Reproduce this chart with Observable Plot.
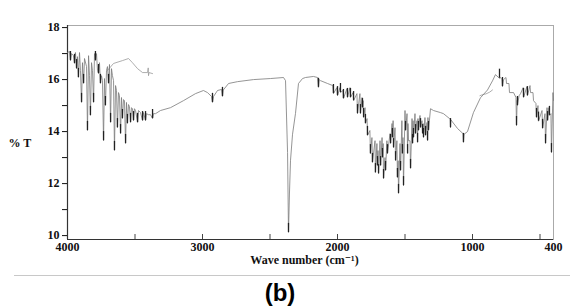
<!DOCTYPE html>
<html><head><meta charset="utf-8">
<script src="https://cdn.jsdelivr.net/npm/d3@7"></script>
<script src="https://cdn.jsdelivr.net/npm/@observablehq/plot@0.6"></script>
<style>
body{margin:0;background:#fff;}
#chart{width:576px;height:275px;}
#cap{width:556px;margin-left:14px;border-top:1px solid #c8c8c8;text-align:center;font:bold 24px Arial,"Liberation Sans",sans-serif;line-height:30px;padding-top:2px;color:#000;}
#cap span{position:relative;left:-12px;}
</style></head><body>
<div id="chart"></div>
<div id="cap"><span>(b)</span></div>
<script>
// Main spectrum: wavenumber (cm-1) and %T
const spectrumW = [4000,3985,3978,3970,3956,3948,3941,3933,3926,3919,3911,3904,3896,3889,3881,3874,3859,3852,3844,3837,3830,3822,3815,3807,3800,3793,3785,3778,3770,3763,3756,3748,3741,3733,3726,3719,3711,3704,3696,3689,3681,3674,3667,3659,3652,3644,3637,3630,3622,3615,3607,3600,3593,3585,3578,3570,3563,3556,3548,3541,3533,3526,3519,3511,3504,3496,3481,3474,3459,3444,3437,3422,3415,3400,3385,3370,3363,3348,
3311,3237,3141,3052,2993,2963,2933,2926,2918,2889,2859,2852,2846,2807,2741,2622,2496,2400,2385,2370,2363,2356,2348,2333,2311,2289,2259,2237,2178,2148,2141,2135,2126,2074,
2035,2030,2005,2000,1982,1978,1960,1956,1930,1926,1908,1904,1885,1881,1856,1852,1834,1830,1818,1815,1810,1807,1796,1793,1781,1778,1760,1756,1745,1741,1722,1719,1708,1704,1700,1696,1685,1681,1670,1667,1662,1659,1648,1644,1634,1630,1611,1607,1596,1593,1588,1585,1574,1570,1560,1556,1551,1548,1537,1533,1523,1519,1515,1511,1500,1496,1485,1481,1478,1474,1463,1459,1448,1444,1440,1437,1426,1422,1411,1407,1404,1400,1389,1385,1374,1370,1366,1363,1352,1348,1337,1333,1330,1326,
1311,1289,1237,1215,1170,1165,1163,1160,1111,1070,1067,1062,1037,993,941,889,852,830,800,793,782,778,770,752,748,730,726,696,678,674,669,667,655,644,625,622,597,593,574,570,552,548,530,526,515,511,485,481,463,459,448,444,434,430,419,415,404,400];
const spectrumT = [17.04,17.08,16.73,17.0,16.92,16.62,17.04,16.42,16.88,16.08,17.04,16.35,15.12,16.65,15.85,16.81,16.5,14.04,16.92,16.15,14.62,16.65,16.35,15.12,17.0,16.73,17.0,16.35,16.23,16.65,15.85,16.15,15.96,13.65,16.04,15.0,16.35,16.5,15.85,16.58,14.35,16.42,16.15,15.96,13.27,15.77,15.58,14.15,15.5,15.38,13.92,15.31,14.5,15.23,15.19,13.54,15.12,14.31,15.04,14.96,14.35,14.92,14.88,14.42,14.88,14.81,14.35,14.81,14.73,14.42,14.73,14.42,14.69,14.65,14.65,14.5,14.69,14.69,
14.81,14.92,15.19,15.46,15.58,15.5,15.35,15.12,15.35,15.58,15.62,15.35,15.6,15.85,15.92,16.0,16.04,16.08,15.96,13.2,10.12,11.6,12.9,13.9,14.7,15.85,16.04,16.08,16.12,16.08,15.7,16.0,15.96,15.85,
15.77,15.46,15.69,15.38,15.69,15.5,15.58,15.27,15.65,15.31,15.69,15.31,15.5,15.19,15.46,14.69,15.46,14.69,15.31,14.92,15.19,14.54,14.92,14.31,14.5,13.85,14.04,13.15,13.77,12.81,13.65,12.42,13.54,12.69,13.27,12.38,13.65,12.69,13.77,13.0,13.54,12.19,13.0,12.5,13.65,13.15,13.92,13.54,14.31,13.77,14.42,13.38,14.15,12.88,13.65,12.23,12.88,11.62,13.54,12.5,14.42,13.15,13.77,11.92,14.81,14.04,14.69,13.15,14.31,13.65,13.65,12.58,14.5,13.54,14.42,13.77,14.69,13.92,14.42,13.58,14.5,14.04,14.62,14.15,14.42,13.92,14.31,13.77,14.54,13.85,14.35,13.65,14.54,14.04,
14.88,14.81,14.73,14.69,14.5,14.5,14.15,14.45,14.12,13.92,13.58,13.9,14.0,14.73,15.3,15.6,15.95,16.19,16.05,16.08,16.0,15.73,16.0,16.08,15.85,15.85,15.5,15.5,15.31,14.23,15.2,15.0,15.38,15.46,15.69,15.31,15.73,15.38,15.77,15.5,15.5,15.19,15.08,14.54,15.0,14.4,14.81,14.12,14.69,13.54,14.92,14.42,14.92,14.62,14.69,13.19,15.5,15.2];

// Faint second pen traces (overlaid on the scan)
const overlayW = [3704,3659,3593,3548,3519,3481,3444,3407,3402,3400,3396,3370];
const overlayT = [16.35,16.62,16.73,16.81,16.65,16.42,16.27,16.27,16.45,16.15,16.27,16.23];
const overlay2W = [945,926,900,872,852];
const overlay2T = [15.38,15.42,15.45,15.52,15.6];

const yTicks = [10,11,12,13,14,15,16,17,18];
const yTickLabels = [10,12,14,16,18];
const xTickLabels = [4000,3000,2000,1000,400];
const xMinorTicks = [3500,3000,2500,2000,1500,1000,500];

const spectrum = spectrumW.map((w, i) => ({w, t: spectrumT[i]}));
const overlay = overlayW.map((w, i) => ({w, t: overlayT[i]}));
const overlay2 = overlay2W.map((w, i) => ({w, t: overlay2T[i]}));
const tips = spectrum.filter((d, i, a) => i > 0 && i < a.length - 1 && d.t < a[i-1].t && d.t < a[i+1].t);

const yDomain = [9.85, 18.08];
const serif = "'Liberation Serif','DejaVu Serif','Times New Roman',serif";

const chart = Plot.plot({
  width: 576, height: 275,
  marginLeft: 67, marginRight: 23, marginTop: 25, marginBottom: 36,
  style: {fontFamily: serif, background: "#fff", color: "#111"},
  x: {domain: [4000, 400]},
  y: {domain: yDomain},
  marks: [
    Plot.frame({stroke: "#aaa"}),
    Plot.ruleX([4000], {stroke: "#333", strokeWidth: 1.2}),
    Plot.ruleY([yDomain[0]], {stroke: "#333", strokeWidth: 1.2}),
    Plot.axisY({ticks: yTicks, tickSize: 5, tickPadding: 3, tickFormat: d => yTickLabels.includes(d) ? String(d) : "", label: null, fontSize: 12, fontWeight: "bold"}),
    Plot.axisX({ticks: xTickLabels, tickSize: 0, tickPadding: 3, label: null, fontSize: 12, fontWeight: "bold", tickFormat: d => String(d)}),
    Plot.axisX({ticks: xMinorTicks, tickSize: -5, tickFormat: () => "", label: null, stroke: "#444"}),
    Plot.line(overlay, {x: "w", y: "t", stroke: "#999", strokeWidth: 0.8}),
    Plot.line(overlay2, {x: "w", y: "t", stroke: "#999", strokeWidth: 0.8}),
    Plot.line(spectrum, {x: "w", y: "t", stroke: "#7a7a7a", strokeWidth: 0.8}),
    Plot.ruleX(tips, {x: "w", y1: "t", y2: d => d.t + 0.35, stroke: "#222", strokeWidth: 1.3}),
    Plot.text(["% T"], {frameAnchor: "left", dx: -59, dy: 11, textAnchor: "start", fontSize: 12, fontWeight: "bold"}),
    Plot.text(["Wave number (cm⁻¹)"], {frameAnchor: "bottom", dx: -6, dy: 24, fontSize: 12, fontWeight: "bold"})
  ]
});
document.getElementById("chart").append(chart);
</script>
</body></html>
